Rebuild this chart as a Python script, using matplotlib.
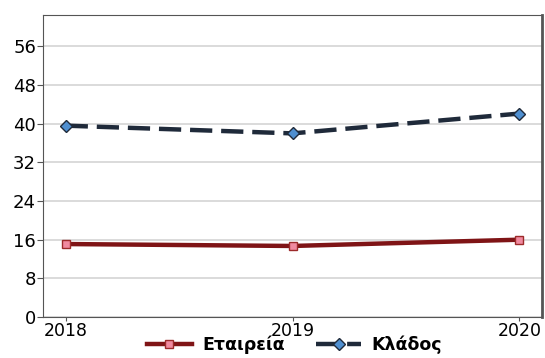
import matplotlib.pyplot as plt

years = [2018, 2019, 2020]
company = [15.1, 14.7, 16.0]
sector = [39.6, 38.0, 42.1]

fig = plt.figure(figsize=(5.45, 3.58), dpi=100)
ax = fig.add_axes([43 / 545, 1 - 317 / 358, 499 / 545, 302 / 358])

ax.plot(years, company, color='#7f1416', linewidth=3.2, marker='s',
        markersize=6, markerfacecolor='#f08aa0', markeredgecolor='#9c2a2a',
        label='Εταιρεία')
ax.plot(years, sector, color='#1f2a3a', linewidth=3.2, dashes=(5, 2),
        marker='D', markersize=6, markerfacecolor='#4f8fd0',
        markeredgecolor='#1f2a3a', label='Κλάδος')

ax.set_ylim(0, 62.5)
ax.set_xlim(2017.9, 2020.1)
ax.set_yticks(range(0, 57, 8))
ax.set_xticks(years)
ax.grid(axis='y', color='#d4d4d4', linewidth=1.2)
ax.set_axisbelow(True)
ax.tick_params(labelsize=13, length=4, color='#555555', pad=1)
ax.tick_params(axis='x', labelsize=12.5, length=3, pad=0.5)

for side in ['left', 'bottom', 'top']:
    ax.spines[side].set_color('#555555')
ax.spines['right'].set_color('#555555')
ax.spines['right'].set_linewidth(2)

fig.legend(loc='lower center', bbox_to_anchor=(0.54, -0.012), ncol=2,
           frameon=False, prop={'weight': 'bold', 'size': 12.5},
           handlelength=2.6, handletextpad=0.6, columnspacing=1.8,
           borderpad=0)

fig.savefig('out.png', dpi=100)
